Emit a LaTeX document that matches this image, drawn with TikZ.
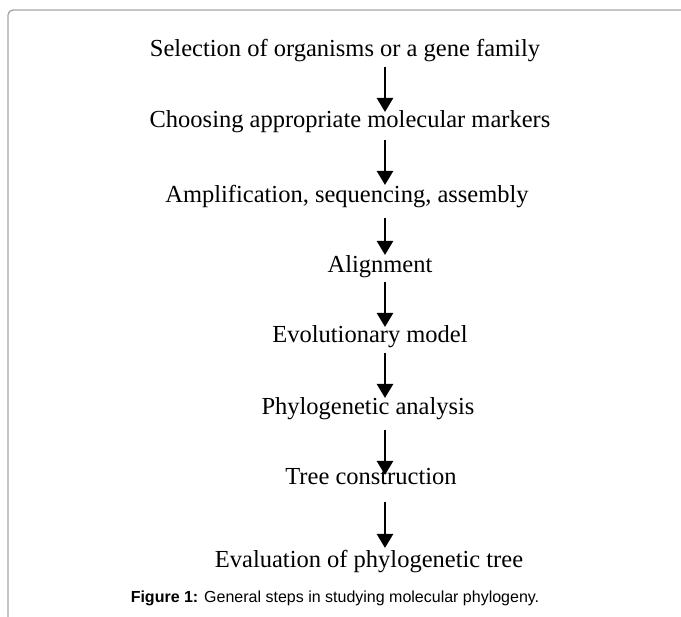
\documentclass[tikz,border=0pt]{standalone}
\usepackage{fontspec}
\setmainfont{Liberation Serif}
\newfontfamily\capfont{Liberation Sans}
\usetikzlibrary{arrows.meta}

\begin{document}
\begin{tikzpicture}[x=1pt,y=-1pt,
  steptext/.style={anchor=base,font=\fontsize{24.5}{29}\selectfont},
  flow/.style={line width=2.5pt,-{Triangle[length=14pt,width=16pt]}}]

\useasboundingbox (0,0) rectangle (681,617);

%Frame
\draw[gray!70,line width=1.3pt,rounded corners=5] (8,617) -- (8,10) -- (681,10);

%Arrow column
\def\ax{385}

%Steps
\node[steptext] (sel) at (345,57) {Selection of organisms or a gene family};
\node[steptext] (mark) at (350,128) {Choosing appropriate molecular markers};
\node[steptext] (amp) at (347,203) {Amplification, sequencing, assembly};
\node[steptext] (align) at (380,273) {Alignment};
\node[steptext] (model) at (370,343) {Evolutionary model};
\node[steptext] (phylo) at (368,415) {Phylogenetic analysis};
\node[steptext] (tree) at (371,485) {Tree construction};
\node[steptext] (eval) at (369,568) {Evaluation of phylogenetic tree};

%Marking arrow ends
\coordinate (sel-out) at (\ax,67);
\coordinate (mark-in) at (\ax,112);
\coordinate (mark-out) at (\ax,140);
\coordinate (amp-in) at (\ax,185);
\coordinate (amp-out) at (\ax,218);
\coordinate (align-in) at (\ax,255);
\coordinate (align-out) at (\ax,282);
\coordinate (model-in) at (\ax,327);
\coordinate (model-out) at (\ax,353);
\coordinate (phylo-in) at (\ax,398);
\coordinate (phylo-out) at (\ax,430);
\coordinate (tree-in) at (\ax,475);
\coordinate (tree-out) at (\ax,502);
\coordinate (eval-in) at (\ax,548);

%Drawing arrows
\draw[flow] (sel-out) -- (mark-in);
\draw[flow] (mark-out) -- (amp-in);
\draw[flow] (amp-out) -- (align-in);
\draw[flow] (align-out) -- (model-in);
\draw[flow] (model-out) -- (phylo-in);
\draw[flow] (phylo-out) -- (tree-in);
\draw[flow] (tree-out) -- (eval-in);

%Caption
\node[anchor=base,font=\capfont\fontsize{16}{19}\selectfont] (caption) at (335,603) {\textbf{Figure 1:} General steps in studying molecular phylogeny.};
\end{tikzpicture}
\end{document}
